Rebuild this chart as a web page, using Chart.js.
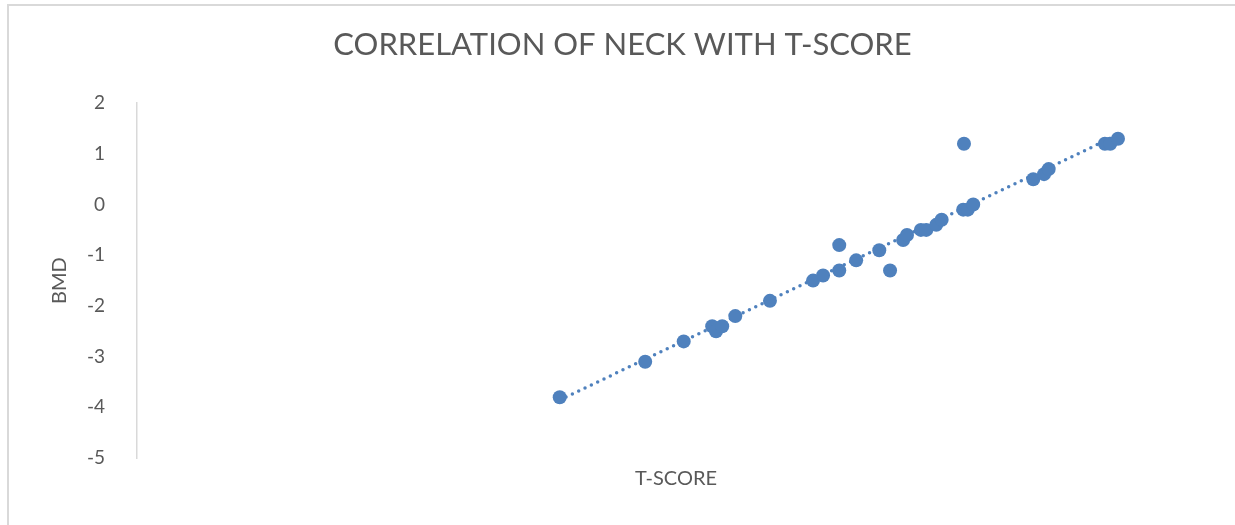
<!DOCTYPE html>
<html>
<head>
<meta charset="utf-8">
<script src="https://cdn.jsdelivr.net/npm/chart.js@4/dist/chart.umd.min.js"></script>
<style>
  html, body { margin: 0; padding: 0; background: #ffffff; overflow: hidden; }
  #frame {
    position: absolute; left: 7px; top: 4px; width: 1260px; height: 560px;
    border: 2px solid #d9d9d9; box-sizing: border-box;
  }
  #wrap { position: absolute; left: 0; top: 0; width: 1235px; height: 525px; }
</style>
</head>
<body>
<div id="frame"></div>
<div id="wrap"><canvas id="chart" width="1235" height="525"></canvas></div>
<script>
// Femoral neck measurement (x) against BMD T-score (y)
const neckValues = [
  0.549, 0.660, 0.710, 0.747, 0.752, 0.760, 0.777, 0.822, 0.878, 0.891,
  0.912, 0.912, 0.934, 0.964, 0.978, 0.995, 1.000, 1.018, 1.025, 1.038,
  1.045, 1.074, 1.073, 1.079, 1.086, 1.164, 1.178, 1.184, 1.257, 1.264, 1.274
];
const bmdValues = [
  -3.8, -3.1, -2.7, -2.4, -2.5, -2.4, -2.2, -1.9, -1.5, -1.4,
  -1.3, -0.8, -1.1, -0.9, -1.3, -0.7, -0.6, -0.5, -0.5, -0.4,
  -0.3, 1.2, -0.1, -0.1, 0.0, 0.5, 0.6, 0.7, 1.2, 1.2, 1.3
];
const yTickValues = [2, 1, 0, -1, -2, -3, -4, -5];

const points = neckValues.map((x, i) => ({ x: x, y: bmdValues[i] }));

// Least-squares linear trendline over the observed range
function linearFit(xs, ys) {
  const n = xs.length;
  const mx = xs.reduce((a, b) => a + b, 0) / n;
  const my = ys.reduce((a, b) => a + b, 0) / n;
  let sxy = 0, sxx = 0;
  for (let i = 0; i < n; i++) {
    sxy += (xs[i] - mx) * (ys[i] - my);
    sxx += (xs[i] - mx) * (xs[i] - mx);
  }
  const slope = sxy / sxx;
  return { slope: slope, intercept: my - slope * mx };
}
const fit = linearFit(neckValues, bmdValues);
const xMin = Math.min(...neckValues);
const xMax = Math.max(...neckValues);
const trendPoints = [
  { x: xMin, y: fit.intercept + fit.slope * xMin },
  { x: xMax, y: fit.intercept + fit.slope * xMax }
];

const blue = '#4f81bd';
const textGrey = '#595959';
const fontFamily = 'Lato, "Open Sans", sans-serif';

new Chart(document.getElementById('chart'), {
  type: 'scatter',
  data: {
    datasets: [
      {
        label: 'BMD',
        data: points,
        backgroundColor: blue,
        borderColor: blue,
        pointRadius: 7,
        pointHoverRadius: 7,
        borderWidth: 0
      },
      {
        label: 'Linear (BMD)',
        type: 'line',
        data: trendPoints,
        borderColor: blue,
        borderWidth: 3.5,
        borderDash: [0, 7],
        borderCapStyle: 'round',
        pointRadius: 0,
        fill: false
      }
    ]
  },
  options: {
    responsive: false,
    animation: false,
    layout: { padding: { left: 30, right: 20, top: 0, bottom: 0 } },
    plugins: {
      legend: { display: false },
      tooltip: { enabled: false },
      title: {
        display: true,
        text: 'CORRELATION OF NECK WITH T-SCORE',
        color: textGrey,
        font: { family: fontFamily, size: 31, weight: 'normal', lineHeight: 1.2 },
        padding: { top: 26, bottom: 40 }
      }
    },
    scales: {
      x: {
        type: 'linear',
        min: 0,
        max: 1.4,
        grid: { display: false },
        border: { display: false },
        ticks: { display: false },
        title: {
          display: true,
          text: 'T-SCORE',
          color: textGrey,
          font: { family: fontFamily, size: 20, lineHeight: 1.2 },
          padding: { top: 0, bottom: 34 }
        },
        afterFit: (scale) => { scale.height = 67; }
      },
      y: {
        type: 'linear',
        min: -5,
        max: 2,
        afterBuildTicks: (scale) => {
          scale.ticks = yTickValues.map(v => ({ value: v }));
        },
        grid: { display: false },
        border: { display: true, color: '#d9d9d9', width: 1.5 },
        ticks: {
          color: textGrey,
          padding: 24,
          font: { family: fontFamily, size: 19 }
        },
        title: {
          display: true,
          text: 'BMD',
          color: textGrey,
          font: { family: fontFamily, size: 20, lineHeight: 1.2 },
          padding: { top: 18, bottom: 0 }
        },
        afterFit: (scale) => { scale.width = 107; }
      }
    }
  }
});
</script>
</body>
</html>
